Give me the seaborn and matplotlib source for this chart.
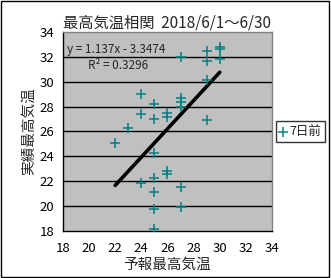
import matplotlib
matplotlib.use("Agg")
import matplotlib.pyplot as plt
import seaborn as sns
import pandas as pd
import numpy as np
from matplotlib.patches import Rectangle

forecast = [29, 30, 30, 29, 30, 27, 29, 24, 25, 27, 27, 27, 24, 26, 26, 25, 29,
            23, 22, 25, 26, 26, 25, 24, 27, 25, 25, 27, 25]
actual = [32.5, 32.8, 32.6, 31.7, 31.8, 32.0, 30.1, 29.0, 28.2, 28.7, 28.4, 28.0,
          27.4, 27.5, 27.2, 27.0, 26.9, 26.3, 25.1, 24.3, 22.8, 22.6, 22.3, 21.9,
          21.5, 21.1, 19.8, 19.9, 18.2]
slope = 1.137
intercept = -3.3474
r2 = 0.3296
series_name = "7日前"
title = "最高気温相関  2018/6/1～6/30"
xlabel = "予報最高気温"
ylabel = "実績最高気温"
ticks = [18, 20, 22, 24, 26, 28, 30, 32, 34]

sns.set_style("white")
plt.rcParams['font.family'] = ['Noto Sans CJK JP', 'DejaVu Sans']

df = pd.DataFrame({"forecast": forecast, "actual": actual})

fig = plt.figure(figsize=(3.31, 2.78), dpi=100)
ax = fig.add_axes([0.190, 0.169, 0.632, 0.716])
ax.set_facecolor("#C0C0C0")

for t in ticks[1:-1]:
    ax.axhline(t, color="black", lw=1.0, zorder=1)

xmin, xmax = min(forecast), max(forecast)
line_df = pd.DataFrame({"x": [xmin, xmax],
                        "y": [slope * xmin + intercept, slope * xmax + intercept]})
sns.lineplot(data=line_df, x="x", y="y", ax=ax, color="black", lw=2.6, zorder=2,
             legend=False)

sns.scatterplot(data=df, x="forecast", y="actual", ax=ax, marker="+", s=60,
                color="#008080", linewidth=1.1, zorder=3, label=series_name)

ax.set_xlim(18, 34)
ax.set_ylim(18, 34)
ax.set_xticks(ticks)
ax.set_yticks(ticks)
ax.tick_params(axis="both", direction="in", length=4, width=1, colors="black",
               labelsize=9.5, pad=6)
ax.tick_params(axis="x", pad=8)
for lab in ax.get_xticklabels() + ax.get_yticklabels():
    lab.set_color("black")

ax.spines["left"].set_color("black")
ax.spines["bottom"].set_color("black")
ax.spines["top"].set_color("#808080")
ax.spines["right"].set_color("#808080")
for s in ax.spines.values():
    s.set_linewidth(1)

ax.set_xlabel(xlabel, fontsize=10.5, labelpad=2)
ax.set_ylabel(ylabel, fontsize=10.5, labelpad=3)
ax.set_title(title, fontsize=11, pad=3)

ax.text(18.3, 32.6, f"y = {slope}x - {abs(intercept)}", fontsize=8.5, va="center")
ax.text(19.9, 31.3, f"R² = {r2}", fontsize=8.5, va="center")

leg = ax.legend(loc="center left", bbox_to_anchor=(1.0, 0.5), frameon=True,
                fancybox=False, edgecolor="black", fontsize=9, handlelength=0.6,
                handletextpad=0.2, borderpad=0.3, borderaxespad=0.3)
leg.get_frame().set_linewidth(1)

fig.patches.append(Rectangle((0.003, 0.004), 0.991, 0.992, transform=fig.transFigure,
                             fill=False, edgecolor="black", lw=1))

fig.savefig("out.png", dpi=100)
